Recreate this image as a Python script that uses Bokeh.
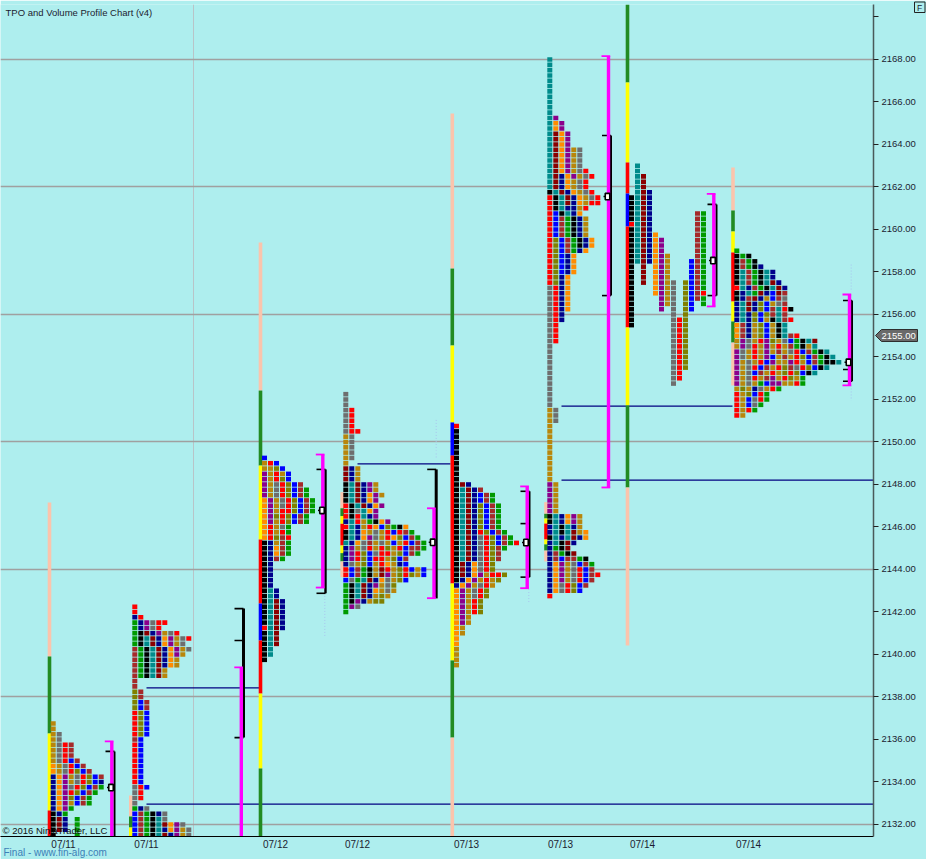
from bokeh.plotting import figure
from bokeh.layouts import column
from bokeh.core.properties import value
from bokeh.models import Range1d, FixedTicker, Label, ColumnDataSource
from bokeh.embed import file_html
from bokeh.resources import INLINE

# ---- letter -> colour of a TPO cell
tpo_colors = dict(k="#000000", r="#ff0000", b="#0000ff", n="#00008b", t="#008b8b", g="#009a00",
                  o="#ff8c00", O="#b8860b", m="#8b008b", M="#8b0000", B="#a52a2a", y="#6e6e6e",
                  l="#808000")
TICK = 0.25

profile_1 = ["O","O","Oy","Oy","OyrB","OyrB","OyrB","OyrbB","oOyrbB","oOyrlbB","nomOyrlbB","nomOyrlbn",
             "nomyrlbBg","nomrlbBg","nomlbBg","nomObBg","nomg","kng","kMn g","kMn g","kMn g","k   g"]
profile_2 = ["r","r","nr","gnmyrr","gnmyr","gkMnmOyr","gktMnomOyr","gktMnomOy","BgktMnomOy","BgktMnomO",
             "BgktMnoO","BgktMnoO","BgktMO","BgktMO","B","B","lB","lB","lbB","lbB","rlb","rlb","rlb","rlb","rlb",
             "Bb","rb","rb","rb","rb","rb","rb","rb","rb","yrb","yr","yr","y","gny","bBgkny","bBgkty",
             "bBgktMomy","bBgktnomOy","bBgktMnmOy"]
profile_3 = ["b","Orb","OOlb","mOrOb","mOrlb","mOyrlbB","mOyrlbBg","mOyrlbBg","omOyrlbBg","omOyrlbBg",
             "omOrrlbBg","omlrlbBg","omOrlbBg","orOyg","orOrg","orlBr","knOBg","knoBg","knoBg","knBg",
             "kn","kn","kn","kn","kn","ktn","ktn","ktMn","ktMn","ktMn","ktMn","ktMn","rtMn","ktM","ktM",
             "ktM","kt","kt","k"]
profile_4 = ["y","y","y","yr","yr","yr","yr","yrr","Oy","Oy","Oy","Oy","Oy","O","MnO","MnO","MnO",
             "ktMnmO","ktMnmO","ktMnomO","ktMnom","rktMnom","rkytom","rkrtnm","ntrOgkom","rtnOroblgko",
             "ktnoOyOrbrBg","ktnomyOrolbBg","tnoyBOyObOrbBg","nmOyrOrlOrbBBg","nmrlbyrrOlbBg","nmrlbrrOlbB",
             "nyOlbOroOnb","rbBgkOMrOlrbOb","rbBgkOMmOlrlOb","bygtMnoyOlb","gktMnmOyl","gktMnoOyO",
             "gktMnOlO","gkmnOll","gmy","g"]
profile_5 = ["r","k","k","k","k","k","k","k","k","k","k","kMn","ktMnB","ktMnbBg","ktMnbBg","ktMnlbBg","ktMnlbBg",
             "ktMnlbBg","ktMnlbBg","ktMnlbBg","ktMnrlbBg","ktMnyrlbBg","ktMnyrlbBgr","ktMnyrlBg","ktMnyrlB",
             "ktMnyrlB","kMnoyrl","kMnoyrl","kMnomOrrl","knomOrOl","nomOyrO","omOyrl","omOyrl","omOrl","omOrl",
             "omOrl","omO","omO","oO","oO","o","o","O","O","O","O"]
profile_6_top = ["t","t","t","t","t","t","t","t","t","t","t","tm","tom","tom","tMom","tMom","tMom","tMomOy",
                 "tMomOy","tMomOy","tMomOy","tMomOyr","tMnomOyr","tMnoOyr","tMnoOyr","ktMnoOyr","rktMnoOyr",
                 "rktMnoOrr","rktnnOr","rbktno","rbBgknO","rbBgknO","rbBgknO","rbBgknO","rlbBgkno","rlbBgkno",
                 "rlbBgno","rlbno","rlbno","rlbno","rlbno","rlno","rlno","yrno","yrno","yrno","yrno","yrno",
                 "yrn","yrn","yr","yr","yr","yr"]
profile_6_mid = ["y","y","y","y","y","y","y","y","y","y","y"]
profile_6_low = ["y","Oy","Oy","Oy","O","O","O","O","O","O","O","O","O","O","O","mO","mO","mO","mO","mO","mO",
                 "ktnomO","ktnomO","ntktnO","ntktMOo","ktntMno","ntkMn","ngkM","nBgkM","nBbBBgk",
                 "nomOybBg","nomOyrbB","nomOyrbBr","nomOyrbB","noyrlbB","noyrlb","r"]
profile_7 = [" t"," t"," tM"," tM"," tM"," tMn","ktMn","ktMn","ktMn","ktMn       Bg","ktMn       Bg",
             "rtMn       Bg","ktMn       Bg","ktMno      Bg","ktMnom     Bg","ktMnom     Bg","ktMnom     Bg",
             "ktMnomO    Bg","ktMnomO   bBg","k M omO   bBg","k M omO   bBg","k M omO   bBg","k M omOy lbBg",
             "k   omOy lbBg","k   omOy lbBr","k    mOy lbBg","k    mOy lb g","k    m y lb","k      y l",
             "k      yrl","k      yrl","       yrl","       yrl","       yrl","       yrl","       yrl",
             "       yrl","       yrl","       yrl","       yr","       yr","       y"]
profile_8 = ["g","kgk","kBgk","kBgkn","ktBgktn","ktBgktn","ktBgktMn","rtnBgktMn","kntgMnbMB","knBMnObBy",
             "ntMnlbOyB","ntMnlbBtrk"[:10],"ntnlblBtB","ntnlbOktBr","oBnOlbOkt","oBnOlbOkt","oBnOlbOktBr",
             "OmyOrmlOybgktM","OmyrOmOrOBgkOt","myOrOmOBOyrbBgkt","myOrOmbOBOrlbBgkt","mOyOrbmOOmrObBgkkt",
             "mOyrbBOrlByrlbkt","mOybBOrOlrlbkt","mOyrOBmOrlOg","mOyOgbmmOOrg","OlOnyOrg","rOlbrg","rObyrg",
             "rObyg","rOrg","rO"]
profile_rows = [profile_1, profile_2, profile_3, profile_4, profile_5, profile_6_top, profile_6_mid,
                profile_6_low, profile_7, profile_8]
profile_top_price = [2136.75, 2142.25, 2149.25, 2152.25, 2150.75, 2168.0, 2154.5, 2151.75, 2163.0, 2159.0]
profile_first_col = [52.7, 134.3, 264.0, 345.3, 456.0, 549.3, 549.3, 549.3, 631.0, 736.3]
COLUMN_STEP = 6

# ---- session range bars: position, price levels (top to bottom), colour of each stretch
PE, GR, YE, RD, BL = "#fbc4ac", "#228b22", "#ffff00", "#ff0000", "#0000ff"
bar_x = [49, 130.3, 260, 341.7, 451.8, 545.5, 627, 732.5]
bar_levels = [
    [2147.15, 2139.91, 2136.28, 2132.66, 2131.44],
    [2133.36, 2132.38, 2131.86, 2131.44],
    [2159.39, 2152.42, 2148.89, 2145.41, 2142.40, 2140.66, 2138.16, 2134.64, 2131.44],
    [2147.64, 2146.88, 2146.51, 2146.15, 2145.13, 2144.77, 2144.38, 2143.64],
    [2165.46, 2158.16, 2154.54, 2150.92, 2149.36, 2143.34, 2139.72, 2136.09, 2131.44],
    [2147.17, 2146.62, 2146.40, 2146.16, 2145.41, 2145.18, 2144.89, 2144.38],
    [2170.59, 2166.92, 2163.15, 2161.69, 2160.14, 2155.39, 2151.72, 2147.86, 2140.42],
    [2162.92, 2160.89, 2159.91, 2158.92, 2156.61, 2155.67, 2154.68, 2152.66],
]
bar_colors = [
    [PE, GR, YE, RD], [PE, GR, YE], [PE, GR, YE, RD, BL, RD, YE, GR], [PE, GR, YE, RD, YE, GR, PE],
    [PE, GR, YE, BL, RD, YE, GR, PE], [PE, GR, YE, RD, YE, GR, PE], [GR, YE, RD, BL, RD, YE, GR, PE],
    [PE, GR, YE, RD, YE, GR, PE],
]

# ---- magenta brackets
mag_x = [111.3, 240.8, 322.3, 433.5, 526.7, 608, 713.3, 849]
mag_top = [2135.91, 2139.39, 2149.41, 2146.88, 2147.91, 2168.16, 2161.68, 2156.94]
mag_bottom = [2131.44, 2131.44, 2143.15, 2142.65, 2143.12, 2147.86, 2156.38, 2152.66]
mag_has_foot = [False, False, True, True, True, True, True, True]

# ---- black value-area lines, their ticks and POC boxes
blk_x = [114, 243, 325, 435.7, 529, 610.5, 716, 851.5]
blk_width = [2, 3, 2.4, 3, 2, 2, 2, 2]
blk_top = [2135.44, 2142.16, 2148.71, 2148.71, 2147.68, 2164.42, 2161.18, 2156.66]
blk_bottom = [2131.44, 2136.09, 2142.88, 2142.64, 2143.64, 2156.89, 2156.89, 2152.86]
blk_ticks = [[2135.44], [2142.16, 2140.66, 2136.09], [2148.71, 2142.88], [2148.71], [2147.68, 2146.16, 2143.64],
             [2164.42, 2156.89], [2161.18, 2156.89], [2156.66, 2153.41, 2152.86]]
poc_x = [110.5, 321.5, 432.2, 525.5, 607, 712.5, 848]
poc_price = [2133.74, 2146.78, 2145.28, 2145.27, 2161.55, 2158.54, 2153.75]

# ---- naked POC lines
naked_x0 = [146, 146, 357, 561, 561]
naked_x1 = [260, 873, 450, 732, 873]
naked_price = [2138.43, 2132.96, 2148.97, 2151.69, 2148.21]

# ---- faint dotted wicks
wick_x = [324.3, 435.7, 435.7, 528.3, 850.7, 850.7]
wick_top = [2143.04, 2151.04, 2149.46, 2143.08, 2158.35, 2152.66]
wick_bottom = [2140.84, 2149.60, 2149.27, 2142.40, 2157.11, 2151.95]

# ---- axes
price_ticks = [2132, 2134, 2136, 2138, 2140, 2142, 2144, 2146, 2148, 2150, 2152, 2154, 2156, 2158, 2160,
               2162, 2164, 2166, 2168, 2170]
grid_prices = [2132, 2138, 2144, 2150, 2156, 2162, 2168]
date_x = [63, 146, 275, 357, 466, 560, 642, 748]
date_labels = ["07/11", "07/11", "07/12", "07/12", "07/13", "07/13", "07/14", "07/14"]
last_price_label = "2155.00"

BG = "#aeeeee"
FONT = "Liberation Sans"

p = figure(width=926, height=859, output_backend="svg", toolbar_location=None,
           x_range=Range1d(0, 873), y_range=Range1d(2131.435, 2170.588),
           y_axis_location="right", min_border_left=0, min_border_right=53, min_border_top=4,
           min_border_bottom=23, background_fill_color=BG, border_fill_color=BG, outline_line_color=None,
           frame_align=False)

p.ygrid[0].ticker = FixedTicker(ticks=grid_prices)
p.ygrid[0].grid_line_color = "#a0a0a0"
p.ygrid[0].grid_line_width = 1.5
p.xgrid[0].ticker = FixedTicker(ticks=[193])
p.xgrid[0].grid_line_color = "#b8c4c8"

ya = p.yaxis[0]
ya.ticker = FixedTicker(ticks=price_ticks)
ya.major_label_overrides = {t: ("" if t == 2170 else f"{t}.00") for t in price_ticks}
ya.major_tick_out, ya.major_tick_in = 5, 0
ya.minor_tick_out, ya.minor_tick_in = 0, 0
ya.axis_line_color = "#4a5a5a"
ya.axis_line_width = 1.5
ya.major_tick_line_color = "#222222"
ya.major_label_text_font = FONT
ya.major_label_text_font_size = "9.5px"
ya.major_label_text_color = "#1c1c30"
ya.major_label_standoff = 3

xa = p.xaxis[0]
xa.ticker = FixedTicker(ticks=date_x)
xa.major_label_overrides = dict(zip(date_x, date_labels))
xa.major_tick_out, xa.major_tick_in = 0, 0
xa.minor_tick_out, xa.minor_tick_in = 0, 0
xa.axis_line_color = "#000000"
xa.major_label_text_font = FONT
xa.major_label_text_font_size = "10px"
xa.major_label_text_color = "#1c1c30"
xa.major_label_standoff = 2

# naked POC lines
p.segment(naked_x0, naked_price, naked_x1, naked_price, line_color="#000080", line_width=1.2)
# wicks
p.segment(wick_x, wick_top, wick_x, wick_bottom, line_color="#a8c4ee", line_width=1, line_dash="1 2")

# range bars
for x, lev, cols in zip(bar_x, bar_levels, bar_colors):
    p.vbar(x=[x] * len(cols), width=3.6, top=lev[:-1], bottom=lev[1:], fill_color=cols, line_color=None)

# TPO cells
cx, cy, cc = [], [], []
for rows, top, x0 in zip(profile_rows, profile_top_price, profile_first_col):
    for i, row in enumerate(rows):
        for j, ch in enumerate(row):
            if ch != " ":
                cx.append(x0 + j * COLUMN_STEP)
                cy.append(top - i * TICK)
                cc.append(tpo_colors[ch])
p.rect(x="x", y="y", width=5, height=0.215, fill_color="c", line_color=None,
       source=ColumnDataSource(dict(x=cx, y=cy, c=cc)))

# black lines & ticks
p.segment(blk_x, blk_top, blk_x, blk_bottom, line_color="#000000", line_width=blk_width)
for x, ticks in zip(blk_x, blk_ticks):
    p.segment([x - 9] * len(ticks), ticks, [x] * len(ticks), ticks, line_color="#000000", line_width=1.6)

# magenta brackets
p.segment(mag_x, mag_top, mag_x, mag_bottom, line_color="#ff00ff", line_width=3.4)
p.segment([x - 7 for x in mag_x], mag_top, [x + 1.7 for x in mag_x], mag_top, line_color="#ff00ff", line_width=1.8)
foot_x = [x for x, f in zip(mag_x, mag_has_foot) if f]
foot_y = [y for y, f in zip(mag_bottom, mag_has_foot) if f]
p.segment([x - 7 for x in foot_x], foot_y, [x + 1.7 for x in foot_x], foot_y, line_color="#ff00ff", line_width=1.8)

# POC boxes
p.segment([x - 4 for x in poc_x], poc_price, poc_x, poc_price, line_color="#000000", line_width=1.5)
p.rect(poc_x, poc_price, width=4.5, height=0.3, fill_color="#ffffff", line_color="#000000", line_width=1.6)


def note(x, y, text, color="#1c1c30", size="9.5px"):
    p.add_layout(Label(x=x, y=y, text=text, text_color=color, text_font=FONT, text_font_size=size,
                       text_baseline="middle", level="annotation"))


note(5, 2170.2, "TPO and Volume Profile Chart (v4)")
note(2, 2131.72, "\u00a9 2016 NinjaTrader, LLC", color="#111111")

# ---- transparent page-sized sheet over the chart, for what lies outside the plot frame
sheet = figure(width=926, height=859, output_backend="svg", toolbar_location=None,
               x_range=Range1d(0, 926), y_range=Range1d(859, 0), x_axis_type=None, y_axis_type=None,
               min_border=0, background_fill_color=None, border_fill_color=None, outline_line_color=None,
               frame_align=False)
sheet.margin = (-859, 0, 0, 0)
sheet.grid.visible = False
sheet.patch([875, 881, 917, 917, 881], [335, 329, 329, 341, 341], fill_color="#6a6a6a",
            line_color="#2e2e2e", line_width=1)
sheet.text([881], [335], text=[last_price_label], text_color="#ffffff", text_font=value(FONT),
           text_font_size="9.5px", text_baseline="middle")
sheet.text([3], [852], text=["Final - www.fin-alg.com"], text_color="#3c80b8", text_font=value(FONT),
           text_font_size="10px", text_baseline="middle")
sheet.quad(left=[914], right=[924.5], top=[1.5], bottom=[12], fill_color=None, line_color="#222222", line_width=1)
sheet.text([919.2], [7], text=["F"], text_color="#1c1c30", text_font=value(FONT), text_font_size="8.5px",
           text_baseline="middle", text_align="center")

page = column(p, sheet, spacing=0)
open("out.html", "w").write(file_html(page, INLINE))
